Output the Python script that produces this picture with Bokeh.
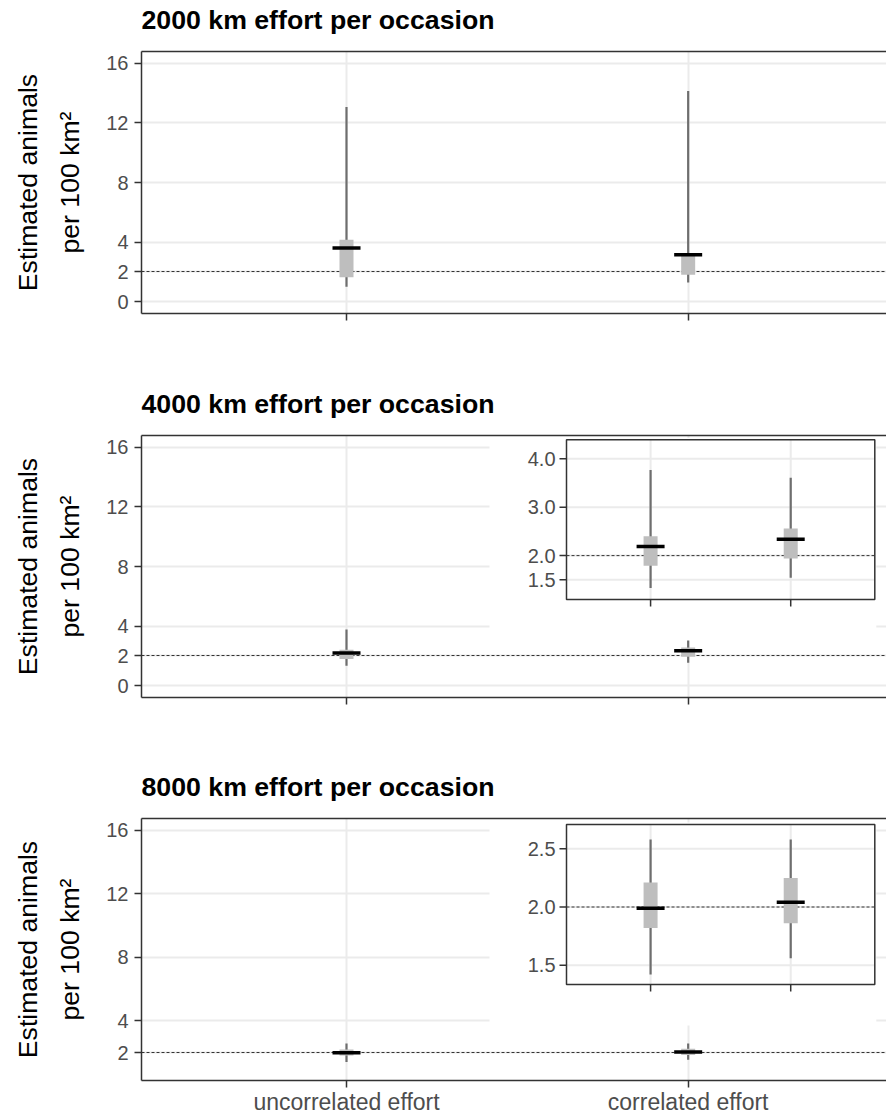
from bokeh.plotting import figure
from bokeh.models import Range1d, FixedTicker, LinearAxis, Title
from bokeh.layouts import column
from bokeh.core.properties import value
from bokeh.embed import file_html
from bokeh.resources import INLINE

# ---------------- data ----------------
CATEGORIES = ["uncorrelated effort", "correlated effort"]
CAT_POS = [1, 2]
TITLES = ["2000 km effort per occasion",
          "4000 km effort per occasion",
          "8000 km effort per occasion"]
Y_LABEL_OUTER = "Estimated animals"
Y_LABEL_INNER = "per 100 km\u00b2"
TRUE_DENSITY = 2.0

E2000_LO95 = [1.00, 1.29]
E2000_LO50 = [1.63, 1.81]
E2000_MED = [3.60, 3.15]
E2000_HI50 = [4.16, 3.12]
E2000_HI95 = [13.07, 14.14]

E4000_LO95 = [1.33, 1.54]
E4000_LO50 = [1.79, 1.94]
E4000_MED = [2.19, 2.34]
E4000_HI50 = [2.40, 2.56]
E4000_HI95 = [3.77, 3.61]

E8000_LO95 = [1.42, 1.56]
E8000_LO50 = [1.82, 1.86]
E8000_MED = [1.99, 2.04]
E8000_HI50 = [2.21, 2.25]
E8000_HI95 = [2.58, 2.58]

MAIN_Y_LIMITS = [(0, 16), (0, 16), (1, 16)]
MAIN_Y_TICKS = [[0, 2, 4, 8, 12, 16], [0, 2, 4, 8, 12, 16], [2, 4, 8, 12, 16]]

INSET_Y_LIMITS_4000 = (1.093, 4.393)
INSET_Y_TICKS_4000 = [1.5, 2.0, 3.0, 4.0]
INSET_Y_LABELS_4000 = ["1.5", "2.0", "3.0", "4.0"]
INSET_Y_LIMITS_8000 = (1.334, 2.709)
INSET_Y_TICKS_8000 = [1.5, 2.0, 2.5]
INSET_Y_LABELS_8000 = ["1.5", "2.0", "2.5"]

# ---------------- layout / style ----------------
FONT = "Liberation Sans"
INK = "#333333"
GRID = "#EBEBEB"
TICK_TXT = "#4D4D4D"
WHISK = "#6E6E6E"
BOX = "#BEBEBE"

FRAME_W = 745
FRAME_H = 262
PX_PER_CAT = 341.67
X_LO, X_HI = 0.4, 2.6           # discrete axis expansion (0.6 each side)
MAIN_X_END = X_LO + FRAME_W / PX_PER_CAT
INSET_X_PX = (425.0, 733.3)      # inset frame inside the main frame, px from frame left
INSET_Y_PX = {"4000": (98.0, 257.7), "8000": (96.0, 256.0)}
TITLE_GAP = 17                   # px between frame top and title box


def expand(lim, f=0.05):
    d = lim[1] - lim[0]
    return lim[0] - f * d, lim[1] + f * d


def inset_range(frame_len, px0, px1, lo, hi):
    k = (px1 - px0) / (hi - lo)
    start = lo - px0 / k
    return Range1d(start, start + frame_len / k), k


def draw_intervals(p, xs, lo95, lo50, med, hi50, hi95, **rng):
    p.segment(x0=xs, y0=lo95, x1=xs, y1=hi95, line_color=WHISK, line_width=2.2, **rng)
    p.segment(x0=xs, y0=lo50, x1=xs, y1=hi50, line_color=BOX, line_width=14,
              line_cap="butt", **rng)
    p.scatter(x=xs, y=med, marker="dash", size=28, line_color="black",
              line_width=3.5, **rng)


def add_inset(p, key, ylim, yticks, ylabels, series):
    xr, kx = inset_range(FRAME_W, INSET_X_PX[0], INSET_X_PX[1], X_LO, X_HI)
    yr, ky = inset_range(FRAME_H, INSET_Y_PX[key][0], INSET_Y_PX[key][1], ylim[0], ylim[1])
    p.extra_x_ranges = {"ix": xr}
    p.extra_y_ranges = {"iy": yr}
    R = dict(x_range_name="ix", y_range_name="iy")
    n = len(yticks)
    # white plot background
    p.quad(left=[X_LO - 77 / kx], right=[X_HI + 1.5 / kx],
           bottom=[ylim[0] - 41 / ky], top=[ylim[1] + 2 / ky],
           fill_color="white", line_color=None, **R)
    # grid
    p.segment(x0=[X_LO] * n, x1=[X_HI] * n, y0=yticks, y1=yticks,
              line_color=GRID, line_width=2, **R)
    p.segment(x0=CAT_POS, x1=CAT_POS, y0=[ylim[0]] * 2, y1=[ylim[1]] * 2,
              line_color=GRID, line_width=2, **R)
    # reference line
    p.segment(x0=[X_LO], x1=[X_HI], y0=[TRUE_DENSITY], y1=[TRUE_DENSITY],
              line_color=INK, line_width=1, line_dash="3 2", **R)
    draw_intervals(p, CAT_POS, *series, **R)
    # border
    p.quad(left=[X_LO], right=[X_HI], bottom=[ylim[0]], top=[ylim[1]],
           fill_color=None, line_color=INK, line_width=1.5, **R)
    # ticks
    p.segment(x0=[X_LO - 7 / kx] * n, x1=[X_LO] * n, y0=yticks, y1=yticks,
              line_color=INK, line_width=1.5, **R)
    p.segment(x0=CAT_POS, x1=CAT_POS, y0=[ylim[0] - 7 / ky] * 2, y1=[ylim[0]] * 2,
              line_color=INK, line_width=1.5, **R)
    p.text(x=[X_LO] * n, y=yticks, text=ylabels, x_offset=-11,
           text_align="right", text_baseline="middle",
           text_font=value(FONT), text_font_size="20px", text_color=TICK_TXT, **R)


def make_panel(i, series, show_x_labels, top_border, bottom_border):
    yr = expand(MAIN_Y_LIMITS[i])
    p = figure(frame_width=FRAME_W, frame_height=FRAME_H,
               x_range=Range1d(X_LO, MAIN_X_END), y_range=Range1d(*yr),
               output_backend="svg", toolbar_location=None,
               min_border_left=141, min_border_right=0,
               min_border_top=top_border, min_border_bottom=bottom_border,
               background_fill_color="white", border_fill_color="white",
               outline_line_color=None)
    # axes
    xa = p.xaxis[0]
    xa.ticker = FixedTicker(ticks=CAT_POS)
    xa.major_label_overrides = {c: lab for c, lab in zip(CAT_POS, CATEGORIES)}
    xa.major_label_text_font = FONT
    xa.major_label_text_font_size = "23px"
    xa.major_label_text_color = TICK_TXT if show_x_labels else None
    xa.major_label_standoff = 1
    xa.axis_line_color = INK
    xa.axis_line_width = 1.5
    xa.major_tick_line_color = INK
    xa.major_tick_line_width = 1.5
    xa.major_tick_out = 7
    xa.major_tick_in = 0
    xa.minor_tick_line_color = None

    ya = p.yaxis[0]
    ya.ticker = FixedTicker(ticks=MAIN_Y_TICKS[i])
    ya.major_label_text_font = FONT
    ya.major_label_text_font_size = "20px"
    ya.major_label_text_color = TICK_TXT
    ya.major_label_standoff = 6
    ya.axis_line_color = INK
    ya.axis_line_width = 1.5
    ya.major_tick_line_color = INK
    ya.major_tick_line_width = 1.5
    ya.major_tick_out = 7
    ya.major_tick_in = 0
    ya.minor_tick_line_color = None
    ya.axis_label = Y_LABEL_INNER
    ya.axis_label_text_font = FONT
    ya.axis_label_text_font_size = "26.6px"
    ya.axis_label_text_font_style = "normal"
    ya.axis_label_text_color = "black"
    ya.axis_label_standoff = 18

    outer = LinearAxis(ticker=FixedTicker(ticks=[]), axis_label=Y_LABEL_OUTER,
                       axis_label_text_font=FONT, axis_label_text_font_size="26.6px",
                       axis_label_text_font_style="normal", axis_label_text_color="black",
                       axis_label_standoff=10, axis_line_color=None,
                       major_tick_line_color=None, minor_tick_line_color=None,
                       major_tick_out=0, minor_tick_out=0, major_label_standoff=0,
                       major_label_text_font_size="0px")
    p.add_layout(outer, "left")

    # top border line of the panel; its invisible tick extent leaves room under the title
    top = LinearAxis(ticker=FixedTicker(ticks=[CAT_POS[0]]), axis_line_color=INK,
                     axis_line_width=1.5, major_tick_line_color=None,
                     minor_tick_line_color=None, major_tick_out=TITLE_GAP, major_tick_in=0,
                     minor_tick_out=0, major_label_standoff=0,
                     major_label_text_font_size="0px", major_label_text_color=None)
    p.add_layout(top, "above")
    p.add_layout(Title(text=TITLES[i], align="left", text_font=FONT,
                       text_font_size="26.7px", text_font_style="bold",
                       text_color="black", standoff=0), "above")

    p.xgrid.grid_line_color = GRID
    p.xgrid.grid_line_width = 2
    p.ygrid.grid_line_color = GRID
    p.ygrid.grid_line_width = 2

    p.hspan(y=[TRUE_DENSITY], line_color=INK, line_width=1, line_dash="3 2")
    draw_intervals(p, CAT_POS, *series)
    return p


S2000 = (E2000_LO95, E2000_LO50, E2000_MED, E2000_HI50, E2000_HI95)
S4000 = (E4000_LO95, E4000_LO50, E4000_MED, E4000_HI50, E4000_HI95)
S8000 = (E8000_LO95, E8000_LO50, E8000_MED, E8000_HI50, E8000_HI95)

p1 = make_panel(0, S2000, False, 51, 71)
p2 = make_panel(1, S4000, False, 51, 71)
add_inset(p2, "4000", INSET_Y_LIMITS_4000, INSET_Y_TICKS_4000, INSET_Y_LABELS_4000, S4000)
p3 = make_panel(2, S8000, True, 50, 36)
add_inset(p3, "8000", INSET_Y_LIMITS_8000, INSET_Y_TICKS_8000, INSET_Y_LABELS_8000, S8000)

layout = column(p1, p2, p3, spacing=0)
open("out.html", "w").write(file_html(layout, INLINE))
